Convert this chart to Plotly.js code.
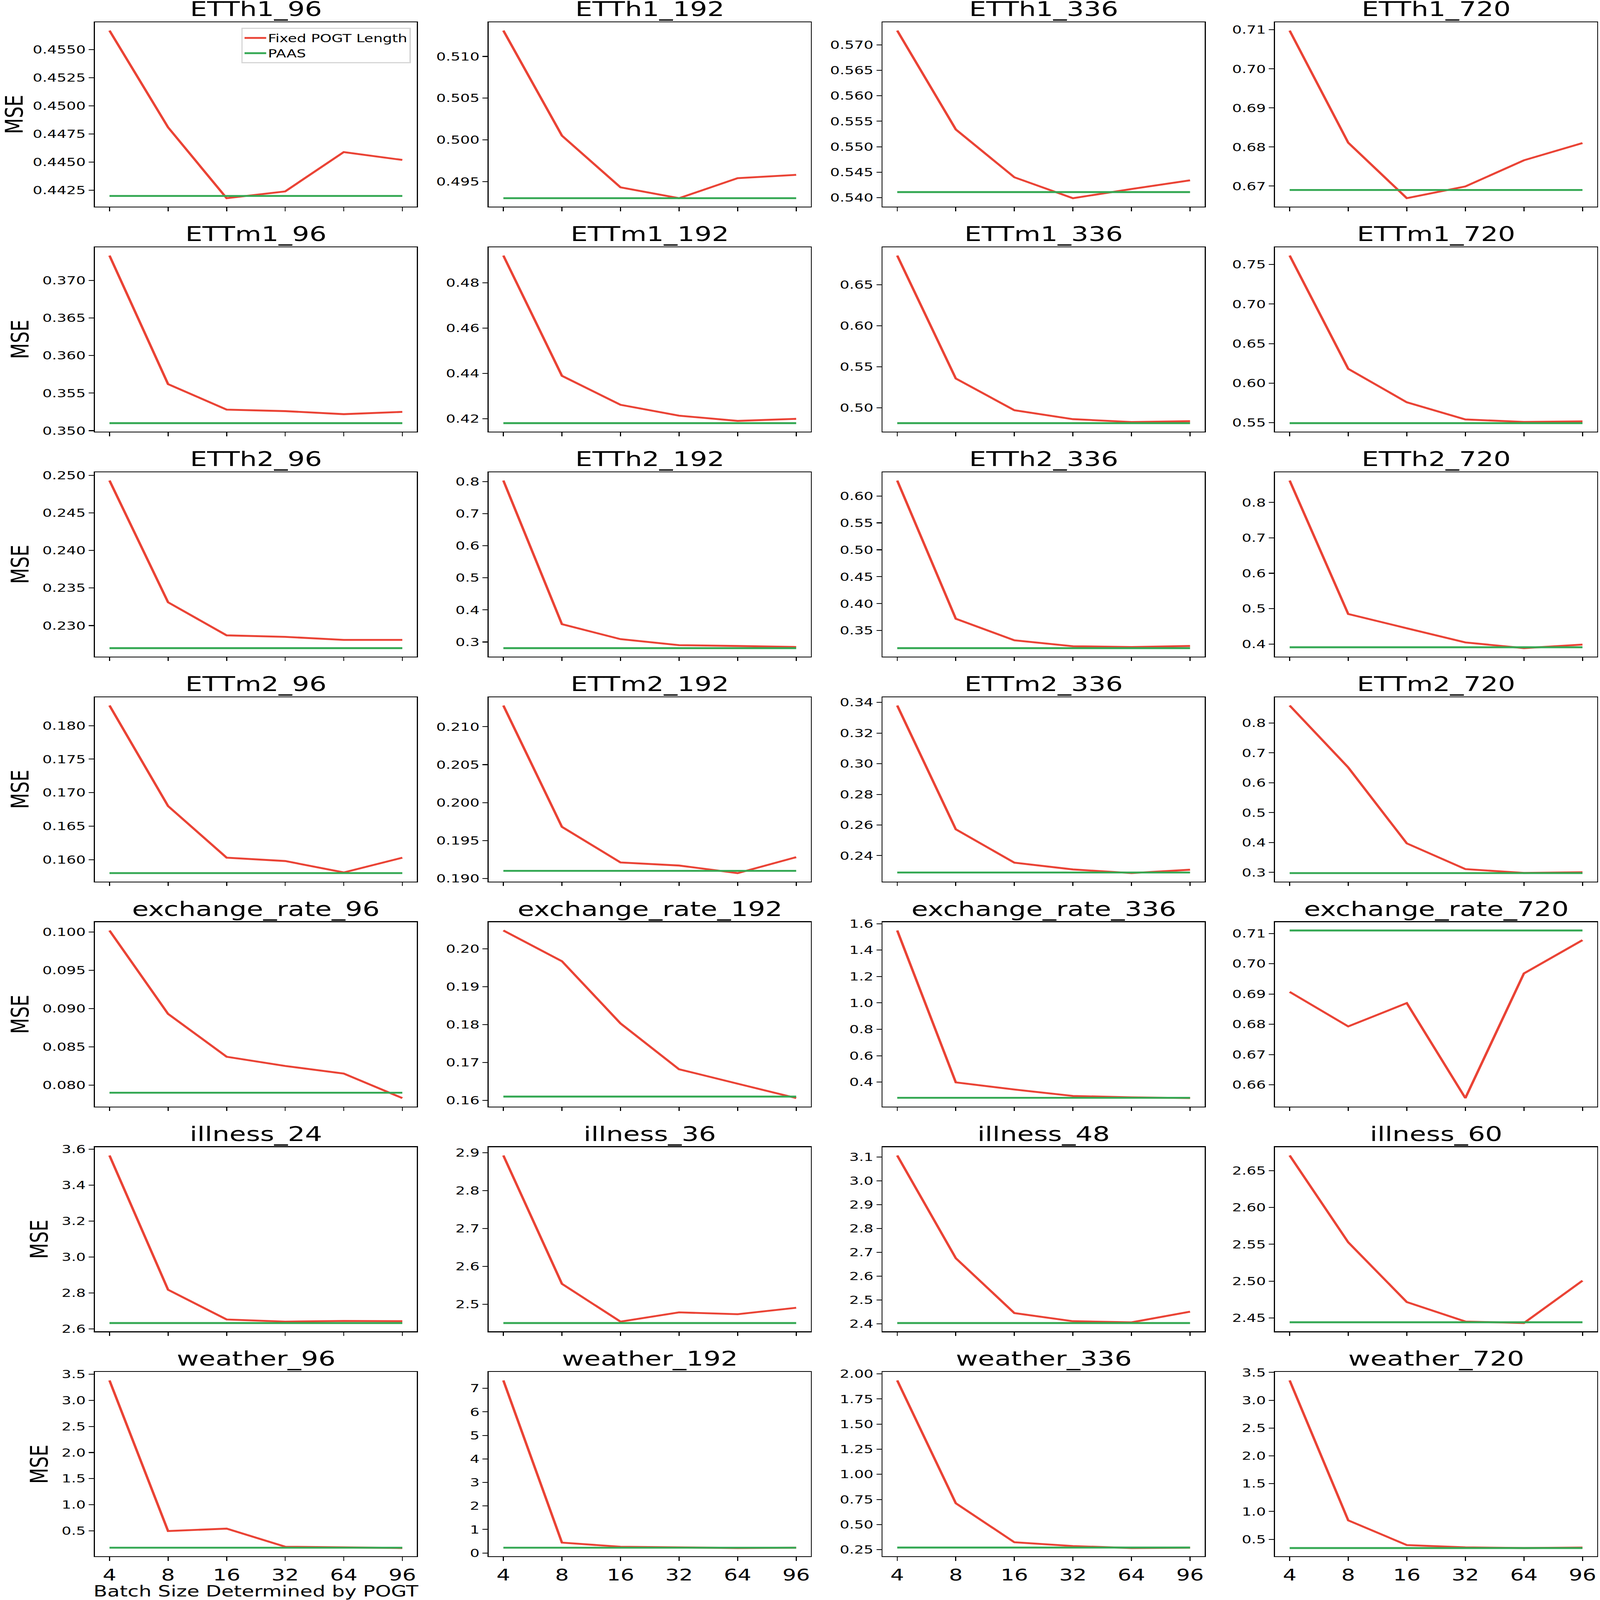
<!DOCTYPE html>
<html>
<head>
<meta charset="utf-8">
<script src="https://cdn.plot.ly/plotly-3.0.1.min.js"></script>
<style>
html,body{margin:0;padding:0;background:#fff;overflow:hidden;width:100%;height:100%;}
#wrap{position:absolute;left:0;top:0;width:4436px;height:5910px;transform-origin:0 0;}
#chart{width:4436px;height:5910px;}
</style>
</head>
<body>
<div id="wrap"><div id="chart"></div></div>
<script>
// ---------- data ----------
const batchSizes = ['4', '8', '16', '32', '64', '96'];
const datasets = ['ETTh1', 'ETTm1', 'ETTh2', 'ETTm2', 'exchange_rate', 'illness', 'weather'];
const horizonsStd = [96, 192, 336, 720];
const horizonsIllness = [24, 36, 48, 60];
const seriesNames = ['Fixed POGT Length', 'PAAS'];

const fixed_ETTh1 = [
  [0.4567, 0.4481, 0.4418, 0.4424, 0.4459, 0.4452],
  [0.5131, 0.5005, 0.4943, 0.4930, 0.4954, 0.4958],
  [0.5728, 0.5534, 0.5440, 0.5399, 0.5417, 0.5434],
  [0.7098, 0.6811, 0.6669, 0.6699, 0.6766, 0.6810]
];
const paas_ETTh1 = [0.4420, 0.4930, 0.5411, 0.6690];

const fixed_ETTm1 = [
  [0.3733, 0.3562, 0.3528, 0.3526, 0.3522, 0.3525],
  [0.4920, 0.4389, 0.4261, 0.4213, 0.4190, 0.4199],
  [0.6857, 0.5357, 0.4970, 0.4861, 0.4826, 0.4836],
  [0.7614, 0.6181, 0.5757, 0.5540, 0.5509, 0.5516]
];
const paas_ETTm1 = [0.3510, 0.4180, 0.4812, 0.5493];

const fixed_ETTh2 = [
  [0.2493, 0.2331, 0.2287, 0.2285, 0.2281, 0.2281],
  [0.8031, 0.3556, 0.3089, 0.2902, 0.2876, 0.2844],
  [0.6286, 0.3720, 0.3320, 0.3209, 0.3195, 0.3214],
  [0.8620, 0.4847, 0.4445, 0.4044, 0.3883, 0.3984]
];
const paas_ETTh2 = [0.2270, 0.2809, 0.3174, 0.3907];

const fixed_ETTm2 = [
  [0.1830, 0.1680, 0.1603, 0.1598, 0.1581, 0.1603],
  [0.2128, 0.1968, 0.1921, 0.1917, 0.1907, 0.1928],
  [0.3380, 0.2572, 0.2354, 0.2310, 0.2286, 0.2308],
  [0.8587, 0.6513, 0.3971, 0.3110, 0.2981, 0.3005]
];
const paas_ETTm2 = [0.1580, 0.1910, 0.2290, 0.2976];

const fixed_exchange = [
  [0.1002, 0.0893, 0.0837, 0.0825, 0.0815, 0.0783],
  [0.2048, 0.1967, 0.1803, 0.1682, 0.1644, 0.1606],
  [1.5483, 0.3980, 0.3440, 0.2955, 0.2847, 0.2793],
  [0.6907, 0.6793, 0.6870, 0.6556, 0.6968, 0.7078]
];
const paas_exchange = [0.0790, 0.1610, 0.2815, 0.7110];

const fixed_illness = [
  [3.5658, 2.8175, 2.6517, 2.6397, 2.6437, 2.6421],
  [2.8928, 2.5539, 2.4540, 2.4785, 2.4736, 2.4906],
  [3.1066, 2.6754, 2.4449, 2.4108, 2.4060, 2.4509],
  [2.6705, 2.5527, 2.4716, 2.4452, 2.4431, 2.5006]
];
const paas_illness = [2.6318, 2.4503, 2.4030, 2.4442];

const fixed_weather = [
  [3.3831, 0.4937, 0.5411, 0.1936, 0.1810, 0.1684],
  [7.3360, 0.4410, 0.2660, 0.2450, 0.2100, 0.2240],
  [1.9344, 0.7123, 0.3238, 0.2861, 0.2664, 0.2697],
  [3.3559, 0.8399, 0.3962, 0.3547, 0.3428, 0.3517]
];
const paas_weather = [0.1747, 0.2240, 0.2713, 0.3428];

// y tick step and label format per panel (row-major)
const tickSteps = [
  0.0025, 0.005, 0.005, 0.01,
  0.005, 0.02, 0.05, 0.05,
  0.005, 0.1, 0.05, 0.1,
  0.005, 0.005, 0.02, 0.1,
  0.005, 0.01, 0.2, 0.01,
  0.2, 0.1, 0.1, 0.05,
  0.5, 1, 0.25, 0.5
];
const tickFormats = [
  '.4f', '.3f', '.3f', '.2f',
  '.3f', '.2f', '.2f', '.2f',
  '.3f', '.1f', '.2f', '.1f',
  '.3f', '.3f', '.2f', '.1f',
  '.3f', '.2f', '.1f', '.2f',
  '.1f', '.1f', '.1f', '.2f',
  '.1f', 'd', '.2f', '.1f'
];

const fixedAll = [fixed_ETTh1, fixed_ETTm1, fixed_ETTh2, fixed_ETTm2, fixed_exchange, fixed_illness, fixed_weather];
const paasAll = [paas_ETTh1, paas_ETTm1, paas_ETTh2, paas_ETTm2, paas_exchange, paas_illness, paas_weather];

// ---------- layout ----------
const W = 4436, H = 5910;
// fit the full-size figure into whatever viewport the browser really has
const sx = (window.innerWidth || W) / W, sy = (window.innerHeight || H) / H;
document.getElementById('wrap').style.transform = 'scale(' + sx + ',' + sy + ')';

const colLeft = [263, 1355, 2447, 3535];
const panelW = 893;
const rowTop0 = 82, rowPitch = 831, panelH = 681;
const RED = '#EA4335', GREEN = '#34A853';
const FONT = 'DejaVu Sans, Liberation Sans, sans-serif';

const traces = [];
const layout = {
  width: W, height: H,
  margin: {l: 0, r: 0, t: 0, b: 0},
  paper_bgcolor: '#ffffff', plot_bgcolor: '#ffffff',
  font: {family: FONT, color: '#000000', size: 42},
  showlegend: true,
  legend: {
    x: 1139 / W, xanchor: 'right',
    y: 1 - 103 / H, yanchor: 'top',
    bgcolor: '#ffffff', bordercolor: '#d6d6d6', borderwidth: 4,
    font: {family: FONT, size: 41, color: '#000000'},
    itemwidth: 60
  },
  annotations: []
};

for (let r = 0; r < datasets.length; r++) {
  const horizons = datasets[r] === 'illness' ? horizonsIllness : horizonsStd;
  for (let c = 0; c < 4; c++) {
    const k = r * 4 + c;
    const n = k + 1;
    const xid = n === 1 ? 'x' : 'x' + n;
    const yid = n === 1 ? 'y' : 'y' + n;
    const fixedVals = fixedAll[r][c];
    const paasVal = paasAll[r][c];
    const paasVals = batchSizes.map(() => paasVal);

    traces.push({
      type: 'scatter', mode: 'lines', x: batchSizes, y: fixedVals,
      xaxis: xid, yaxis: yid, name: seriesNames[0],
      line: {color: RED, width: 7}, showlegend: k === 0, legendrank: 1
    });
    traces.push({
      type: 'scatter', mode: 'lines', x: batchSizes, y: paasVals,
      xaxis: xid, yaxis: yid, name: seriesNames[1],
      line: {color: GREEN, width: 7}, showlegend: k === 0, legendrank: 2
    });

    const all = fixedVals.concat(paasVals);
    const lo = Math.min(...all), hi = Math.max(...all);
    const pad = (hi - lo) * 0.05;

    const x0 = colLeft[c], x1 = colLeft[c] + panelW;
    const top = rowTop0 + r * rowPitch, bot = top + panelH;

    const xa = {
      domain: [x0 / W, x1 / W], anchor: yid,
      type: 'category', range: [-0.25, batchSizes.length - 0.75],
      showline: true, linecolor: '#000000', linewidth: 3, mirror: true,
      ticks: 'outside', ticklen: 14, tickwidth: 3, tickcolor: '#000000',
      showgrid: false, zeroline: false,
      showticklabels: r === datasets.length - 1,
      tickfont: {family: FONT, size: 60, color: '#000000'},
      automargin: false
    };
    if (r === datasets.length - 1 && c === 0) {
      xa.title = {text: 'Batch Size Determined by POGT', font: {family: FONT, size: 56, color: '#000000'}, standoff: 22};
    }
    const ya = {
      domain: [1 - bot / H, 1 - top / H], anchor: xid,
      range: [lo - pad, hi + pad],
      tick0: 0, dtick: tickSteps[k], tickformat: tickFormats[k],
      showline: true, linecolor: '#000000', linewidth: 3, mirror: true,
      ticks: 'outside', ticklen: 14, tickwidth: 3, tickcolor: '#000000',
      showgrid: false, zeroline: false,
      tickfont: {family: FONT, size: 42, color: '#000000'},
      automargin: false
    };
    if (c === 0) {
      ya.title = {text: 'MSE', font: {family: FONT, size: 68, color: '#000000'}, standoff: 16};
    }
    layout[n === 1 ? 'xaxis' : 'xaxis' + n] = xa;
    layout[n === 1 ? 'yaxis' : 'yaxis' + n] = ya;

    layout.annotations.push({
      xref: 'paper', yref: 'paper',
      x: (x0 + x1) / 2 / W, y: 1 - top / H,
      xanchor: 'center', yanchor: 'bottom', yshift: 3,
      text: datasets[r] + '_' + horizons[c], showarrow: false,
      font: {family: FONT, size: 75, color: '#000000'}
    });
  }
}

Plotly.newPlot('chart', traces, layout, {staticPlot: true, displayModeBar: false});
</script>
</body>
</html>
